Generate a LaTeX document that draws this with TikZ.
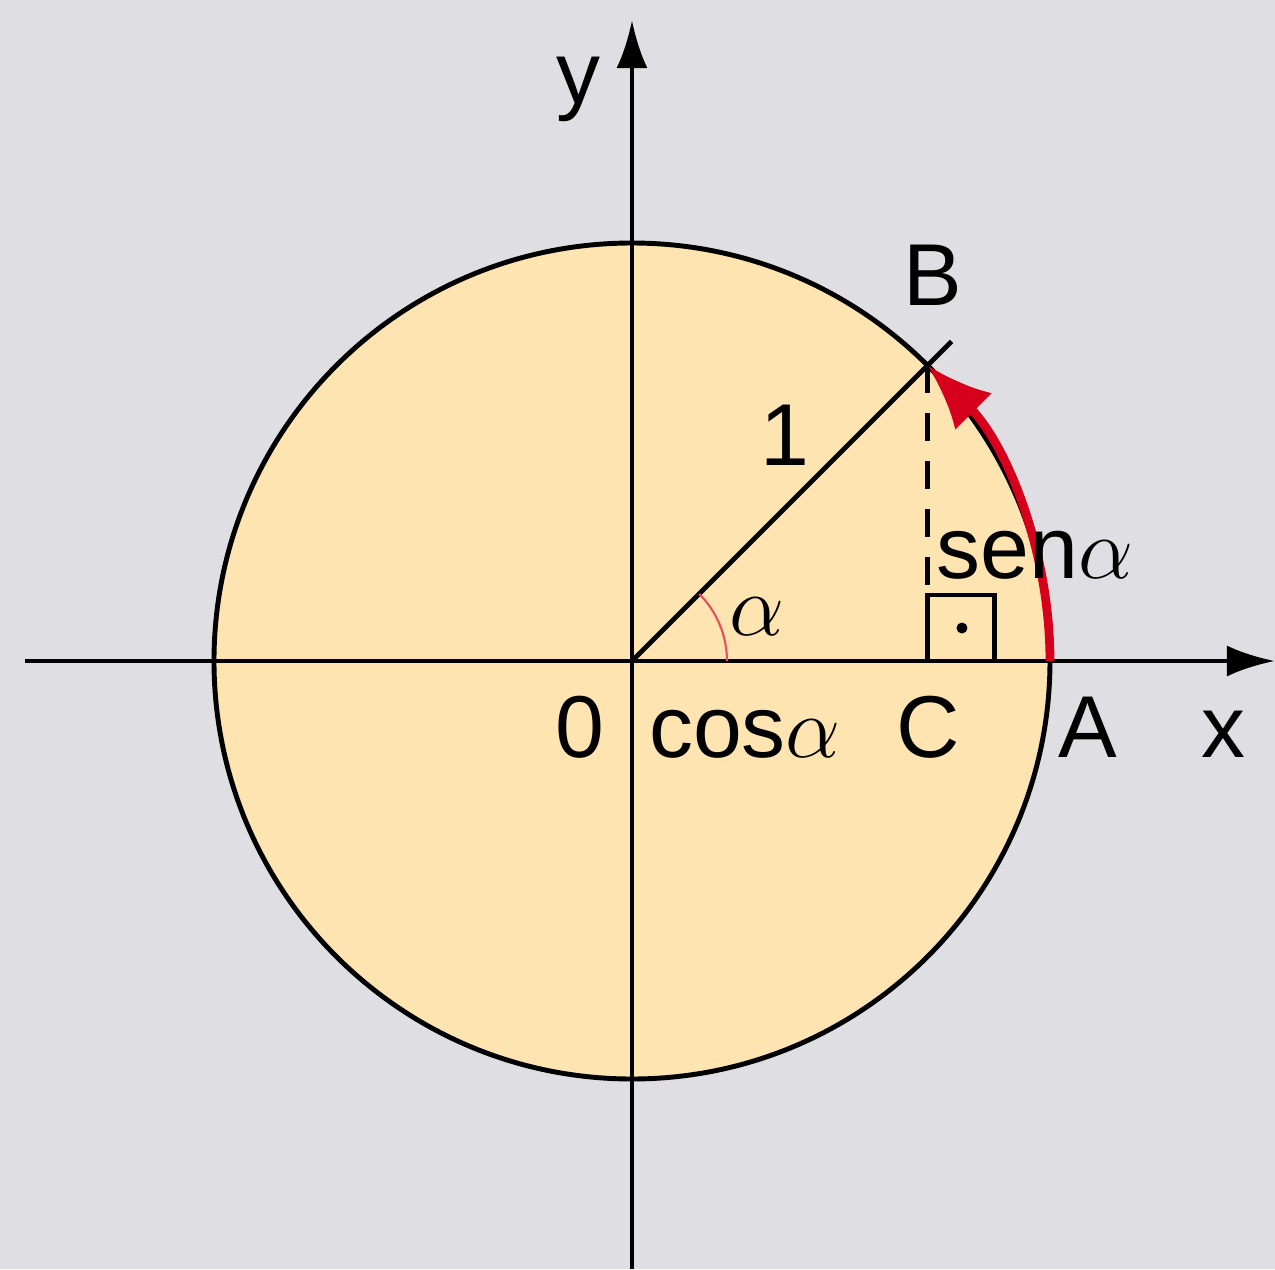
\documentclass[tikz,border=0pt]{standalone}
\usepackage{fontspec}
\setmainfont{Liberation Sans}
\usetikzlibrary{arrows.meta,positioning,calc}

\definecolor{bggray}{HTML}{DEDEE3}
\definecolor{discfill}{HTML}{FDE4B1}
\definecolor{arcred}{HTML}{D6001C}
\definecolor{anglered}{HTML}{E4505E}

\begin{document}
\begin{tikzpicture}[
  every node/.style={font=\fontsize{25}{30}\selectfont, inner sep=0pt},
  lbl/.style={anchor=base},
  axisline/.style={
    -{Latex[length=4.8mm, width=3.1mm]}, line width=1.4pt, black
  },
  thinline/.style={line width=1.4pt, black},
  dashline/.style={line width=1.4pt, black, dash pattern=on 2.8mm off 2mm},
  turnarrow/.style={
    -{Latex[length=6.5mm, width=5.2mm]}, line width=2.5pt, arcred
  },
]

% --- Background ---
\fill[bggray] (-6.32,-6.08) rectangle (6.43,6.61);
\useasboundingbox (-6.32,-6.08) rectangle (6.43,6.61);

% --- Points ---
\coordinate (O) at (0,0);
\coordinate (A) at (0:4.18);
\coordinate (B) at (45:4.18);
\coordinate (Bext) at (45:4.52);
\coordinate (C) at (B |- O);
\coordinate (xstart) at (-6.07,0);
\coordinate (xend) at (6.43,0);
\coordinate (ystart) at (0,-6.08);
\coordinate (yend) at (0,6.41);

% --- Unit circle ---
\draw[thinline, fill=discfill] (O) circle (4.18);

% --- Axes ---
\draw[axisline] (xstart) -- (xend);
\draw[axisline] (ystart) -- (yend);

% --- Radius, sine and right angle ---
\draw[thinline] (O) -- (Bext);
\draw[dashline] (B) -- (C);
\draw[thinline] (C) rectangle ++(0.67,0.66);
\fill (3.30,0.33) circle (0.055);

% --- Angles ---
\draw[anglered, line width=0.6pt] (0.95,0) arc (0:45:0.95);
\draw[turnarrow] (A) arc (0:45:4.18);

% --- Labels ---
\node[lbl] (ylbl) at (-0.54,5.58) {y};
\node[lbl] (xlbl) at (5.91,-0.96) {x};
\node[lbl] (olbl) at (-0.52,-0.96) {0};
\node[lbl] (coslbl) at (1.13,-0.96) {cos$\alpha$};
\node[lbl] (clbl) at (2.96,-0.96) {C};
\node[lbl] (albl) at (4.56,-0.96) {A};
\node[lbl] (blbl) at (3.01,3.56) {B};
\node[lbl] (onelbl) at (1.53,1.96) {1};
\node[lbl] (alphalbl) at (1.25,0.26) {$\alpha$};
\node[lbl] (senlbl) at (4.03,0.83) {sen$\alpha$};

\end{tikzpicture}
\end{document}
